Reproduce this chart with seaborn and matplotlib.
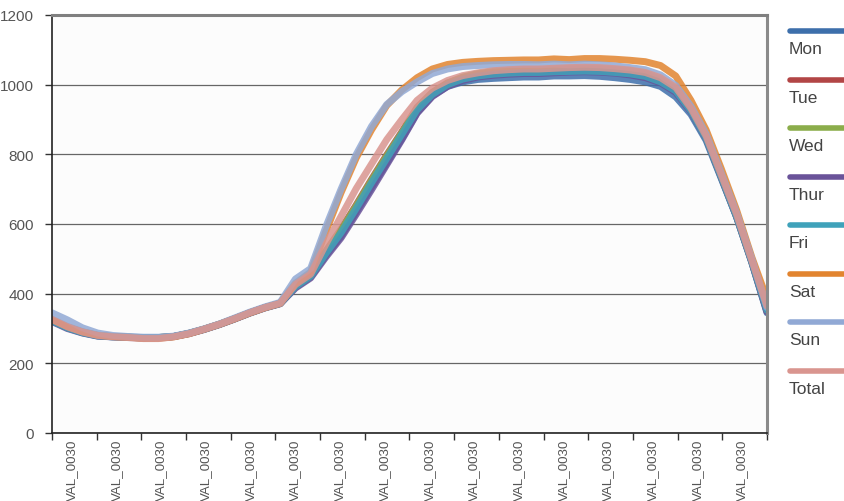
import numpy as np
import pandas as pd
import seaborn as sns
import matplotlib.pyplot as plt
from matplotlib.lines import Line2D

days = ["Mon", "Tue", "Wed", "Thur", "Fri", "Sat", "Sun", "Total"]
colors = ["#3d6fab", "#b24545", "#8bad4b", "#6a5399", "#3fa2ba", "#e2842f", "#91a9d5", "#d9958f"]
tick_labels = ["VAL_0030"] * 16

mon = [322, 302, 288, 279, 276, 275, 274, 274, 277, 286, 298, 312, 328, 345, 360, 372,
       418, 448, 510, 565, 635, 705, 775, 845, 920, 968, 995, 1008, 1015, 1018, 1020, 1022,
       1022, 1025, 1025, 1026, 1024, 1020, 1015, 1008, 995, 965, 915, 840, 730, 620, 490, 345]
tue = [324, 304, 290, 280, 277, 275, 273, 274, 277, 286, 298, 312, 328, 345, 360, 372,
       422, 452, 522, 585, 655, 728, 798, 865, 935, 978, 1005, 1020, 1030, 1035, 1038, 1040,
       1040, 1042, 1043, 1044, 1043, 1040, 1036, 1028, 1012, 985, 928, 848, 735, 622, 492, 350]
wed = [323, 303, 289, 280, 277, 275, 273, 274, 277, 286, 298, 312, 328, 345, 360, 372,
       421, 451, 520, 582, 652, 725, 795, 862, 932, 976, 1004, 1022, 1032, 1038, 1041, 1043,
       1043, 1045, 1046, 1047, 1046, 1043, 1040, 1032, 1015, 988, 930, 850, 738, 624, 494, 355]
thur = [320, 300, 287, 278, 276, 274, 273, 273, 277, 285, 297, 311, 327, 344, 359, 371,
        416, 445, 505, 560, 628, 698, 770, 842, 918, 966, 995, 1012, 1022, 1027, 1030, 1032,
        1032, 1034, 1036, 1037, 1036, 1033, 1028, 1020, 1005, 978, 922, 845, 733, 620, 490, 348]
fri = [322, 302, 288, 279, 276, 275, 274, 274, 277, 286, 298, 312, 328, 345, 360, 372,
       420, 450, 515, 575, 645, 718, 788, 858, 928, 972, 1000, 1016, 1025, 1030, 1033, 1035,
       1035, 1037, 1038, 1039, 1038, 1035, 1031, 1024, 1008, 982, 925, 846, 734, 621, 491, 352]
sat = [326, 306, 291, 281, 277, 275, 272, 272, 276, 285, 298, 312, 328, 345, 360, 373,
       430, 462, 578, 690, 790, 870, 940, 985, 1020, 1045, 1058, 1064, 1067, 1069, 1070, 1071,
       1071, 1074, 1072, 1075, 1075, 1073, 1070, 1066, 1055, 1025, 955, 870, 758, 640, 505, 385]
sun = [345, 325, 302, 287, 280, 277, 275, 275, 278, 287, 299, 313, 330, 347, 362, 375,
       442, 472, 592, 700, 800, 880, 943, 980, 1008, 1032, 1045, 1052, 1055, 1057, 1058, 1058,
       1057, 1059, 1057, 1059, 1057, 1054, 1049, 1043, 1028, 998, 938, 858, 745, 632, 500, 360]
total = [326, 305, 290, 280, 276, 274, 271, 271, 276, 285, 298, 312, 328, 345, 360, 372,
         426, 456, 542, 622, 702, 772, 842, 900, 955, 990, 1012, 1026, 1034, 1040, 1043, 1045,
         1045, 1047, 1049, 1050, 1049, 1046, 1042, 1035, 1020, 992, 932, 852, 740, 628, 496, 365]

series = [mon, tue, wed, thur, fri, sat, sun, total]
n = len(total)
df = pd.DataFrame({
    "slot": np.tile(np.arange(n), len(days)),
    "value": np.concatenate(series),
    "day": np.repeat(days, n),
})

sns.set_theme(style="white")
plt.rcParams['font.family'] = ['Liberation Sans', 'DejaVu Sans']

fig = plt.figure(figsize=(8.44, 5.02), dpi=100)
ax = fig.add_axes([52 / 844, 68 / 502, 715 / 844, 418 / 502])
ax.set_facecolor("#fcfcfc")

sns.lineplot(data=df, x="slot", y="value", hue="day", palette=dict(zip(days, colors)),
             hue_order=days, linewidth=5, alpha=0.85, legend=False, ax=ax,
             solid_capstyle="round", solid_joinstyle="round")

ax.set_xlim(0, n - 1)
ax.set_ylim(0, 1200)
ax.set_yticks(range(0, 1201, 200))
ax.yaxis.grid(True, color="#666666", linewidth=0.9)
ax.set_axisbelow(True)

# category-style axis: tick marks on the edges, labels in between
edges = np.linspace(0, n - 1, len(tick_labels) + 1)
ax.set_xticks(edges)
ax.set_xticklabels([])
ax.set_xticks((edges[:-1] + edges[1:]) / 2 - 0.15, minor=True)
ax.set_xticklabels(tick_labels, minor=True, rotation=90, va="top", ha="center",
                   fontsize=9.6, color="#555555")
ax.tick_params(axis="x", which="major", direction="out", length=5, width=1, color="#333333", bottom=True)
ax.tick_params(axis="x", which="minor", length=0, pad=4)
ax.tick_params(axis="y", direction="out", length=5, width=1, color="#333333", left=True,
               labelsize=11, labelcolor="#555555", pad=8)
ax.set_xlabel("")
ax.set_ylabel("")

for side in ["left", "bottom"]:
    ax.spines[side].set_color("#222222")
    ax.spines[side].set_linewidth(1.2)
ax.spines["top"].set_color("#808080")
ax.spines["top"].set_linewidth(2.2)
ax.spines["right"].set_color("#8a8a8a")
ax.spines["right"].set_linewidth(2.2)

# legend: line sample above each label
for k, (day, color) in enumerate(zip(days, colors)):
    y_px = 32 + 48.5 * k
    fig.add_artist(Line2D([790 / 844, 850 / 844], [1 - y_px / 502, 1 - y_px / 502],
                          color=color, linewidth=4, solid_capstyle="round"))
    fig.text(789 / 844, 1 - (y_px + 18) / 502, day, fontsize=12.5, color="#444444",
             ha="left", va="center")

fig.savefig("out.png", dpi=100)
